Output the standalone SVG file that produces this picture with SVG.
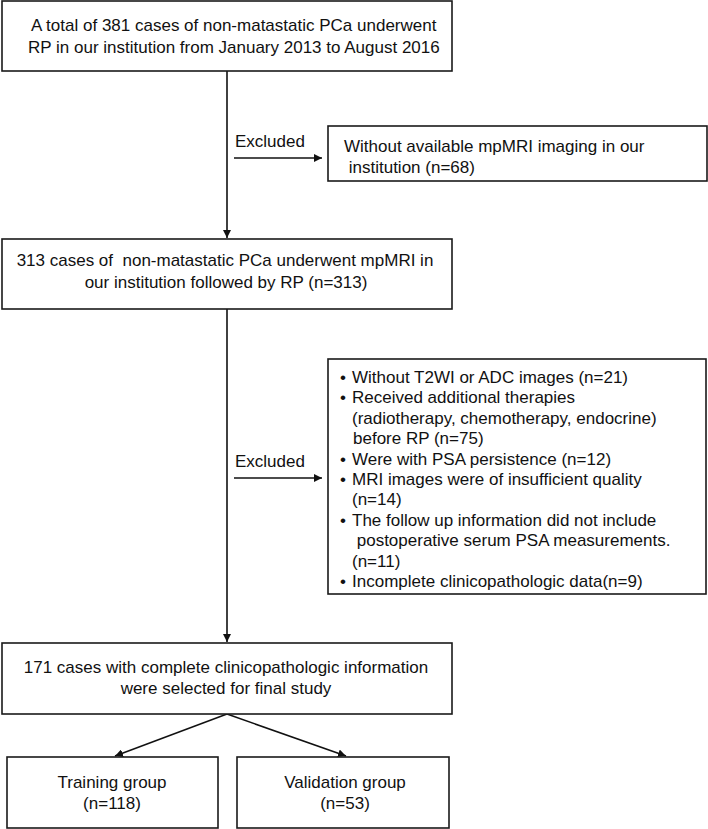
<svg xmlns="http://www.w3.org/2000/svg" width="708" height="829" viewBox="0 0 708 829">
<style>
.box{fill:#fff;stroke:#1a1a1a;stroke-width:1.6}
.t{font-family:"Liberation Sans",Arial,sans-serif;font-size:17px;fill:#111}
.c{text-anchor:middle}
.ln{stroke:#111;stroke-width:1.6;fill:none}
</style>
<defs>
<marker id="ah" viewBox="0 0 10 10" refX="10" refY="5" markerWidth="5" markerHeight="5" markerUnits="strokeWidth" orient="auto">
<path d="M0,0 L10,5 L0,10 z" fill="#111"/>
</marker>
</defs>
<rect width="708" height="829" fill="#fff"/>
<g id="connectors">
<line class="ln" x1="227" y1="71" x2="227" y2="238" marker-end="url(#ah)"/>
<line class="ln" x1="234" y1="158" x2="322" y2="158" marker-end="url(#ah)"/>
<line class="ln" x1="227" y1="309" x2="227" y2="642" marker-end="url(#ah)"/>
<line class="ln" x1="234" y1="478" x2="322" y2="478" marker-end="url(#ah)"/>
<line class="ln" x1="227" y1="714" x2="115" y2="756" marker-end="url(#ah)"/>
<line class="ln" x1="227" y1="714" x2="346" y2="756" marker-end="url(#ah)"/>
<text class="t" x="235" y="147">Excluded</text>
<text class="t" x="235" y="467">Excluded</text>
</g>
<g id="n1">
<rect class="box" x="2" y="1" width="450" height="70"/>
<text class="t" x="31" y="31">A total of 381 cases of non-matastatic PCa underwent</text>
<text class="t" x="28" y="53">RP in our institution from January 2013 to August 2016</text>
</g>
<g id="n2">
<rect class="box" x="328" y="126" width="379" height="55"/>
<text class="t" x="344" y="152">Without available mpMRI imaging in our</text>
<text class="t" x="344" y="173" xml:space="preserve"> institution (n=68)</text>
</g>
<g id="n3">
<rect class="box" x="2" y="239" width="450" height="70"/>
<text class="t c" x="225" y="266" xml:space="preserve">313 cases of  non-matastatic PCa underwent mpMRI in</text>
<text class="t c" x="226" y="288">our institution followed by RP (n=313)</text>
</g>
<g id="n4">
<rect class="box" x="328" y="359" width="378" height="235"/>
<g class="t">
<text x="340" y="383">•</text><text x="352" y="383">Without T2WI or ADC images (n=21)</text>
<text x="340" y="403.4">•</text><text x="352" y="403.4">Received additional therapies</text>
<text x="352" y="423.8">(radiotherapy, chemotherapy, endocrine)</text>
<text x="353" y="444.2">before RP (n=75)</text>
<text x="340" y="464.6">•</text><text x="352" y="464.6">Were with PSA persistence (n=12)</text>
<text x="340" y="485">•</text><text x="352" y="485">MRI images were of insufficient quality</text>
<text x="352" y="505.4">(n=14)</text>
<text x="340" y="525.8">•</text><text x="352" y="525.8">The follow up information did not include</text>
<text x="352" y="546.2" xml:space="preserve"> postoperative serum PSA measurements.</text>
<text x="352" y="566.6">(n=11)</text>
<text x="340" y="587">•</text><text x="352" y="587">Incomplete clinicopathologic data(n=9)</text>
</g>
</g>
<g id="n5">
<rect class="box" x="2" y="643" width="450" height="71"/>
<text class="t c" x="226" y="673">171 cases with complete clinicopathologic information</text>
<text class="t c" x="226" y="694">were selected for final study</text>
</g>
<g id="n6">
<rect class="box" x="7" y="757" width="211" height="71"/>
<text class="t c" x="112" y="788">Training group</text>
<text class="t c" x="112" y="809">(n=118)</text>
</g>
<g id="n7">
<rect class="box" x="237" y="757" width="212" height="71"/>
<text class="t c" x="345" y="788">Validation group</text>
<text class="t c" x="345" y="809">(n=53)</text>
</g>
</svg>
